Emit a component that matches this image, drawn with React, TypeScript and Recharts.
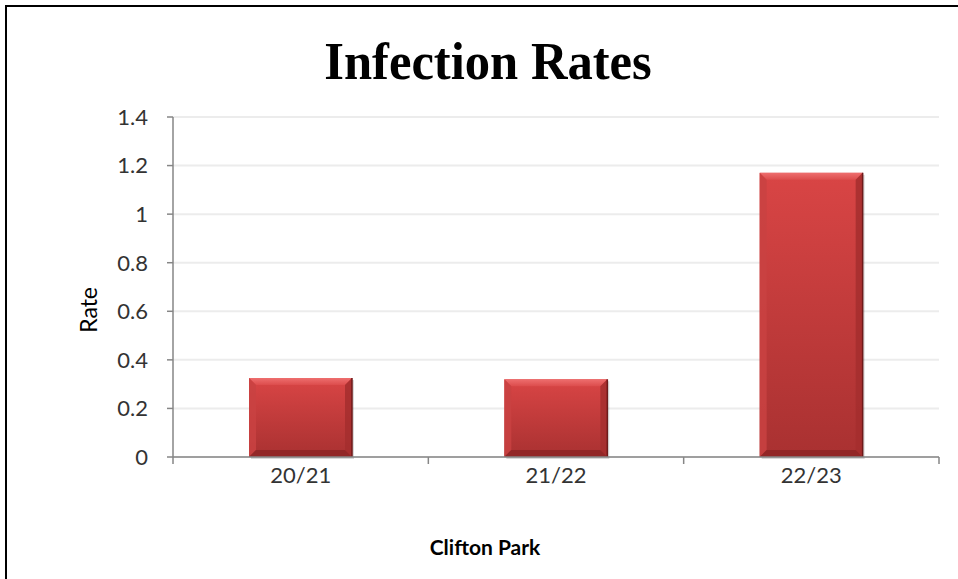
import { BarChart, Bar, XAxis, YAxis, CartesianGrid } from 'recharts';

const seasons = ['20/21', '21/22', '22/23'];
const rates = [0.325, 0.32, 1.17];
const yTicks = [0, 0.2, 0.4, 0.6, 0.8, 1, 1.2, 1.4];

const data = seasons.map((name, i) => ({ name, rate: rates[i] }));

const tickFont = 'Lato, "Open Sans", sans-serif';

// bevelled bar like the Excel "preset" look
function BevelBar(props: any) {
    const { x, y, width, height } = props;
    if (!height || height <= 0) return null;
    const b = 7;
    const x2 = x + width;
    const y2 = y + height;
    return (
        <g>
            <defs>
                <linearGradient id="barFace" x1="0" y1="0" x2="0" y2="1">
                    <stop offset="0%" stopColor="#d94545" />
                    <stop offset="100%" stopColor="#a93131" />
                </linearGradient>
                <linearGradient id="barTop" x1="0" y1="0" x2="0" y2="1">
                    <stop offset="0%" stopColor="#ee6e6e" />
                    <stop offset="100%" stopColor="#dc4c4c" />
                </linearGradient>
            </defs>
            <rect x={x + 2} y={y + 2} width={width} height={height} fill="rgba(0,0,0,0.15)" />
            <rect x={x} y={y} width={width} height={height} fill="url(#barFace)" />
            <polygon points={`${x},${y} ${x2},${y} ${x2 - b},${y + b} ${x + b},${y + b}`} fill="url(#barTop)" />
            <polygon points={`${x},${y} ${x + b},${y + b} ${x + b},${y2 - b} ${x},${y2}`} fill="#c94242" opacity={0.85} />
            <polygon points={`${x2},${y} ${x2},${y2} ${x2 - b},${y2 - b} ${x2 - b},${y + b}`} fill="#a52e2e" opacity={0.85} />
            <polygon points={`${x},${y2} ${x + b},${y2 - b} ${x2 - b},${y2 - b} ${x2},${y2}`} fill="#922727" />
            <line x1={x2} y1={y} x2={x2} y2={y2} stroke="#6e1a1a" strokeWidth={1.5} />
        </g>
    );
}

function SeasonTick(props: any) {
    const { x, y, payload, index } = props;
    const half = payload.offset || 0;
    return (
        <g>
            <line x1={x - half} y1={457} x2={x - half} y2={464} stroke="#868686" strokeWidth={1.5} />
            {index === seasons.length - 1 && (
                <line x1={x + half} y1={457} x2={x + half} y2={464} stroke="#868686" strokeWidth={1.5} />
            )}
            <text x={x} y={y} dy={18} textAnchor="middle" fill="#333" fontSize={22} fontFamily={tickFont}>
                {payload.value}
            </text>
        </g>
    );
}

export default function App() {
    return (
        <div style={{ position: 'absolute', left: 0, top: 0, width: 958, height: 579, background: '#fff', overflow: 'hidden' }}>
            <div style={{ position: 'absolute', left: 5, top: 5, width: 1000, height: 572, borderLeft: '2px solid #000', borderTop: '2px solid #000', borderBottom: '2px solid #e6e6e6' }} />
            <div
                style={{
                    position: 'absolute',
                    left: 0,
                    top: 31,
                    width: 976,
                    textAlign: 'center',
                    fontFamily: '"Liberation Serif", serif',
                    fontWeight: 'bold',
                    fontSize: 53,
                    lineHeight: '60px',
                    color: '#000',
                    transform: 'scaleX(0.955)',
                    transformOrigin: '488px 0',
                }}
            >
                Infection Rates
            </div>
            <div style={{ position: 'absolute', left: 0, top: 0 }}>
                <BarChart width={958} height={579} data={data} margin={{ top: 117, right: 19, bottom: 92, left: 113 }}>
                    <CartesianGrid vertical={false} stroke="#ececec" strokeWidth={2} />
                    <XAxis
                        dataKey="name"
                        axisLine={{ stroke: '#868686', strokeWidth: 1.5 }}
                        tickLine={false}
                        tick={<SeasonTick />}
                        height={30}
                        label={{ value: 'Clifton Park', position: 'bottom', offset: 53, dx: -71, fill: '#000', fontSize: 21, fontWeight: 'bold', fontFamily: tickFont }}
                    />
                    <YAxis
                        domain={[0, 1.4]}
                        ticks={yTicks}
                        width={60}
                        axisLine={{ stroke: '#868686', strokeWidth: 1.5 }}
                        tickLine={{ stroke: '#868686', strokeWidth: 1.5 }}
                        tickSize={6}
                        tickMargin={19}
                        tick={{ fill: '#333', fontSize: 22, fontFamily: tickFont }}
                        label={{ value: 'Rate', angle: -90, position: 'left', offset: 24, fill: '#000', fontSize: 23, fontFamily: tickFont }}
                    />
                    <Bar dataKey="rate" barSize={103} shape={<BevelBar />} isAnimationActive={false} />
                </BarChart>
            </div>
        </div>
    );
}
